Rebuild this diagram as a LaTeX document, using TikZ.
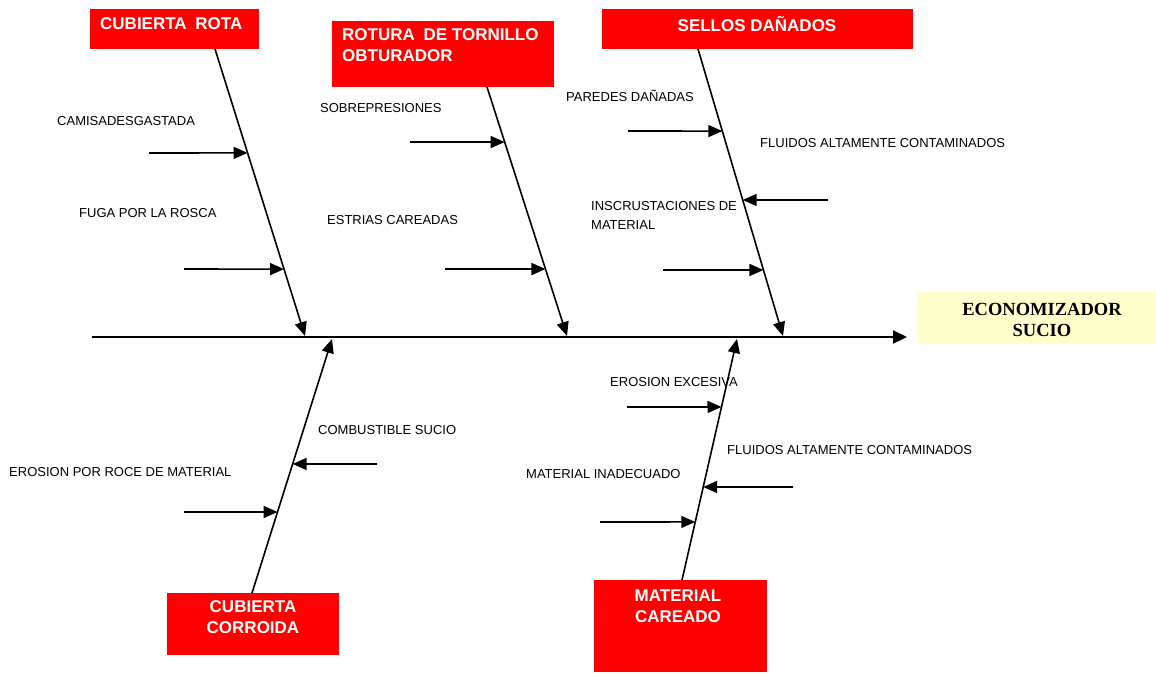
\documentclass[tikz,border=0pt]{standalone}
\usepackage{fontspec}
\setmainfont{Liberation Sans}
\newfontfamily\headfont{Liberation Serif}
\usetikzlibrary{arrows.meta,calc}

\definecolor{causered}{RGB}{255,0,0}
\definecolor{effectyellow}{RGB}{255,255,204}

\begin{document}
\begin{tikzpicture}[x=1pt,y=-1pt,
  bone/.style={line width=1.6pt, -{Triangle[length=14pt,width=12pt]}},
  spine/.style={line width=2.2pt, -{Triangle[length=14pt,width=13pt]}},
  causebox/.style={fill=causered, draw=none, inner sep=0pt},
  effectbox/.style={fill=effectyellow, draw=none, inner sep=0pt},
  title/.style={text=white, font=\fontsize{17}{21}\selectfont\bfseries, inner sep=0pt},
  headtext/.style={font=\headfont\fontsize{18.5}{21}\selectfont\bfseries, inner sep=0pt, align=center},
  lbl/.style={font=\fontsize{13}{19}\selectfont, inner sep=0pt, anchor=west, align=left},
]
\useasboundingbox (0,0) rectangle (1156,675);

% cause boxes
\node[causebox, minimum width=169pt, minimum height=40pt] (c1) at (174.5,29) {};
\node[causebox, minimum width=222pt, minimum height=66pt] (c2) at (443,54) {};
\node[causebox, minimum width=311pt, minimum height=40pt] (c3) at (757.5,29) {};
\node[causebox, minimum width=172pt, minimum height=62pt] (c4) at (253,624) {};
\node[causebox, minimum width=173pt, minimum height=92pt] (c5) at (680.5,626) {};

\node[title, anchor=west] (t1) at (100,24) {CUBIERTA\hspace{4pt} ROTA};
\node[title, anchor=west, align=left] (t2) at (342,45.5) {ROTURA\hspace{4pt} DE TORNILLO\\OBTURADOR};
\node[title] (t3) at (757,24) {SELLOS DAÑADOS};
\node[title, align=center] (t4) at (253,617) {CUBIERTA\\CORROIDA};
\node[title, align=center] (t5) at (678,606.5) {MATERIAL\\CAREADO};

% effect box
\node[effectbox, minimum width=239pt, minimum height=52pt] (eff) at (1036.5,318) {};
\node[headtext] (efft) at (1042,319.5) {ECONOMIZADOR\\SUCIO};

% spine
\coordinate (s0) at (92,337);
\coordinate (s1) at (907,337);
\draw[spine] (s0) -- (s1);

% bones: box edge to spine
\coordinate (b1t) at (215,49);  \coordinate (b1h) at (305,336);
\coordinate (b2t) at (487,87);  \coordinate (b2h) at (567,336);
\coordinate (b3t) at (698,49);  \coordinate (b3h) at (783,336);
\coordinate (b4t) at (252,593); \coordinate (b4h) at (332,339);
\coordinate (b5t) at (682,580); \coordinate (b5h) at (737,339);
\foreach \i in {1,...,5} {\draw[bone] (b\i t) -- (b\i h);}

% sub-cause arrows
\coordinate (p11) at ($(b1t)!0.362!(b1h)$); \coordinate (q11) at (149,153);
\coordinate (p12) at ($(b1t)!0.767!(b1h)$); \coordinate (q12) at (184,269);
\coordinate (p21) at ($(b2t)!0.221!(b2h)$); \coordinate (q21) at (410,142);
\coordinate (p22) at ($(b2t)!0.731!(b2h)$); \coordinate (q22) at (445,269);
\coordinate (p31) at ($(b3t)!0.286!(b3h)$); \coordinate (q31) at (628,131);
\coordinate (p32) at ($(b3t)!0.526!(b3h)$); \coordinate (q32) at (828,200);
\coordinate (p33) at ($(b3t)!0.770!(b3h)$); \coordinate (q33) at (663,270);
\coordinate (p41) at ($(b4t)!0.508!(b4h)$); \coordinate (q41) at (377,464);
\coordinate (p42) at ($(b4t)!0.319!(b4h)$); \coordinate (q42) at (184,512);
\coordinate (p51) at ($(b5t)!0.718!(b5h)$); \coordinate (q51) at (627,407);
\coordinate (p52) at ($(b5t)!0.386!(b5h)$); \coordinate (q52) at (793,487);
\coordinate (p53) at ($(b5t)!0.241!(b5h)$); \coordinate (q53) at (600,522);
\foreach \k in {11,12,21,22,31,32,33,41,42,51,52,53} {\draw[bone] (q\k) -- (p\k);}

% labels
\node[lbl] (l11) at (57,121) {CAMISADESGASTADA};
\node[lbl] (l12) at (79,213) {FUGA POR LA ROSCA};
\node[lbl] (l21) at (320,108) {SOBREPRESIONES};
\node[lbl] (l22) at (327,220) {ESTRIAS CAREADAS};
\node[lbl] (l31) at (566,96) {PAREDES DAÑADAS};
\node[lbl] (l32) at (760,143) {FLUIDOS ALTAMENTE CONTAMINADOS};
\node[lbl] (l33) at (591,215.5) {INSCRUSTACIONES DE\\MATERIAL};
\node[lbl] (l41) at (318,430) {COMBUSTIBLE SUCIO};
\node[lbl] (l42) at (9,472) {EROSION POR ROCE DE MATERIAL};
\node[lbl] (l51) at (610,382) {EROSION EXCESIVA};
\node[lbl] (l52) at (727,450) {FLUIDOS ALTAMENTE CONTAMINADOS};
\node[lbl] (l53) at (526,474) {MATERIAL INADECUADO};
\end{tikzpicture}
\end{document}
